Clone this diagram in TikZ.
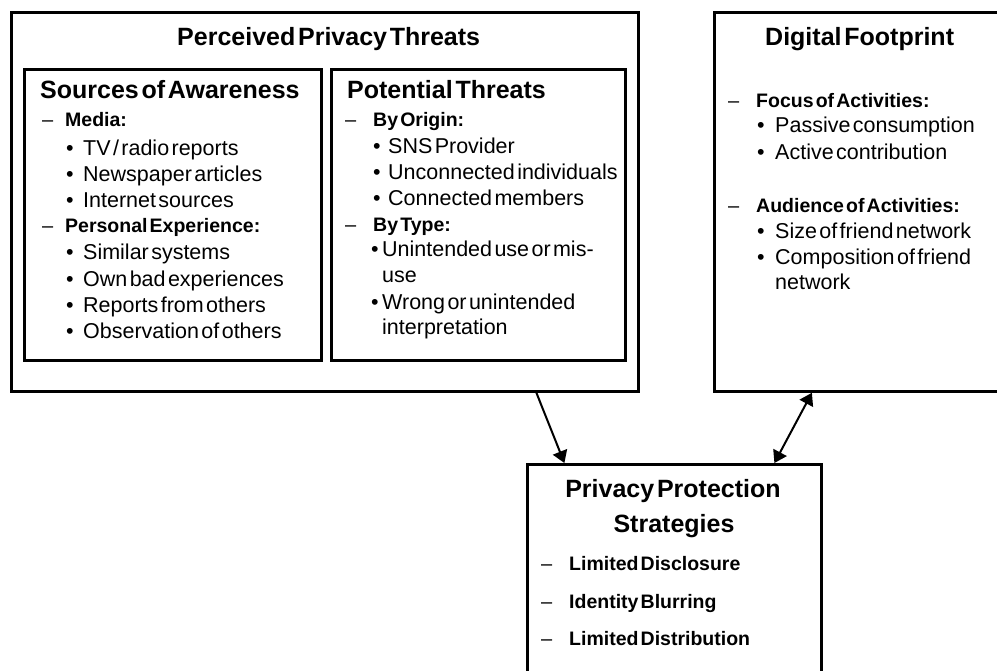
\documentclass[tikz,border=0pt]{standalone}
\usepackage{fontspec}
\setmainfont{Liberation Sans}[WordSpace=0.4]
\usetikzlibrary{arrows.meta}
\tikzset{
  box/.style={draw, line width=2.8pt, inner sep=0pt, anchor=north west, rectangle},
  txt/.style={anchor=base west, inner sep=0pt},
  hd/.style={txt, font=\fontsize{25}{30}\selectfont\bfseries},
  hdc/.style={anchor=base, inner sep=0pt, font=\fontsize{25}{30}\selectfont\bfseries},
  lone/.style={txt, font=\fontsize{19.5}{23}\selectfont\bfseries},
  ltwo/.style={txt, font=\fontsize{21.5}{26}\selectfont},
  dsh/.style={txt, font=\fontsize{20}{24}\selectfont},
  arr/.style={line width=2pt, -{Triangle[length=12pt,width=15pt]}},
  darr/.style={line width=2pt, {Triangle[length=12pt,width=15pt]}-{Triangle[length=12pt,width=15pt]}}
}
\begin{document}
\begin{tikzpicture}[x=1pt,y=-1pt]
\useasboundingbox (0,0) rectangle (997,671);
\clip (0,0) rectangle (997,671);
% boxes
\node[box, minimum width=627pt, minimum height=379pt] (outer) at (10,11) {};
\node[box, minimum width=297pt, minimum height=291pt] (soa) at (23,68) {};
\node[box, minimum width=294pt, minimum height=291pt] (pt) at (330,68) {};
\node[box, minimum width=300pt, minimum height=379pt] (df) at (713,11) {};
\node[box, minimum width=294pt, minimum height=240pt] (pps) at (526,463) {};
% titles
\node[hd] (t1) at (177,46) {Perceived Privacy Threats};
\node[hd] (t2) at (40,99) {Sources of Awareness};
\node[hd] (t3) at (347,99) {Potential Threats};
\node[hd] (t4) at (765,46) {Digital Footprint};
\node[hdc] (t5) at (673,497) {Privacy Protection};
\node[hdc] (t6) at (674,532) {Strategies};
% sources of awareness
\node[dsh] (a1d) at (42,127) {–};
\node[lone] (a1) at (65,127) {Media:};
\node[ltwo] (a1b1) at (66,156) {•};
\node[ltwo] (a1t1) at (83,156) {TV / radio reports};
\node[ltwo] (a1b2) at (66,182) {•};
\node[ltwo] (a1t2) at (83,182) {Newspaper articles};
\node[ltwo] (a1b3) at (66,208) {•};
\node[ltwo] (a1t3) at (83,208) {Internet sources};
\node[dsh] (a2d) at (42,233) {–};
\node[lone] (a2) at (65,233) {Personal Experience:};
\node[ltwo] (a2b1) at (66,260) {•};
\node[ltwo] (a2t1) at (83,260) {Similar systems};
\node[ltwo] (a2b2) at (66,287) {•};
\node[ltwo] (a2t2) at (83,287) {Own bad experiences};
\node[ltwo] (a2b3) at (66,313) {•};
\node[ltwo] (a2t3) at (83,313) {Reports from others};
\node[ltwo] (a2b4) at (66,339) {•};
\node[ltwo] (a2t4) at (83,339) {Observation of others};
% potential threats
\node[dsh] (b1d) at (345,127) {–};
\node[lone] (b1) at (373,127) {By Origin:};
\node[ltwo] (b1b1) at (373,154) {•};
\node[ltwo] (b1t1) at (388,154) {SNS Provider};
\node[ltwo] (b1b2) at (373,180) {•};
\node[ltwo] (b1t2) at (388,180) {Unconnected individuals};
\node[ltwo] (b1b3) at (373,206) {•};
\node[ltwo] (b1t3) at (388,206) {Connected members};
\node[dsh] (b2d) at (345,232) {–};
\node[lone] (b2) at (373,232) {By Type:};
\node[ltwo] (b2b1) at (371,257) {•};
\node[ltwo] (b2t1) at (382,257) {Unintended use or mis-};
\node[ltwo] (b2t1b) at (382,283) {use};
\node[ltwo] (b2b2) at (371,310) {•};
\node[ltwo] (b2t2) at (382,310) {Wrong or unintended};
\node[ltwo] (b2t2b) at (382,335) {interpretation};
% digital footprint
\node[dsh] (c1d) at (728,108) {–};
\node[lone] (c1) at (756,108) {Focus of Activities:};
\node[ltwo] (c1b1) at (757,133) {•};
\node[ltwo] (c1t1) at (775,133) {Passive consumption};
\node[ltwo] (c1b2) at (757,160) {•};
\node[ltwo] (c1t2) at (775,160) {Active contribution};
\node[dsh] (c2d) at (728,213) {–};
\node[lone] (c2) at (756,213) {Audience of Activities:};
\node[ltwo] (c2b1) at (757,239) {•};
\node[ltwo] (c2t1) at (775,239) {Size of friend network};
\node[ltwo] (c2b2) at (757,265) {•};
\node[ltwo] (c2t2) at (775,265) {Composition of friend};
\node[ltwo] (c2t2b) at (775,290) {network};
% privacy protection
\node[dsh] (d1d) at (541,570) {–};
\node[lone] (d1) at (569,570) {Limited Disclosure};
\node[dsh] (d2d) at (541,608) {–};
\node[lone] (d2) at (569,608) {Identity Blurring};
\node[dsh] (d3d) at (541,645) {–};
\node[lone] (d3) at (569,645) {Limited Distribution};
% connectors
\draw[arr] ([xshift=211.5pt]outer.south) -- ([xshift=-110pt]pps.north);
\draw[darr] ([xshift=100pt]pps.north) -- ([xshift=-52.5pt]df.south);
\end{tikzpicture}
\end{document}
